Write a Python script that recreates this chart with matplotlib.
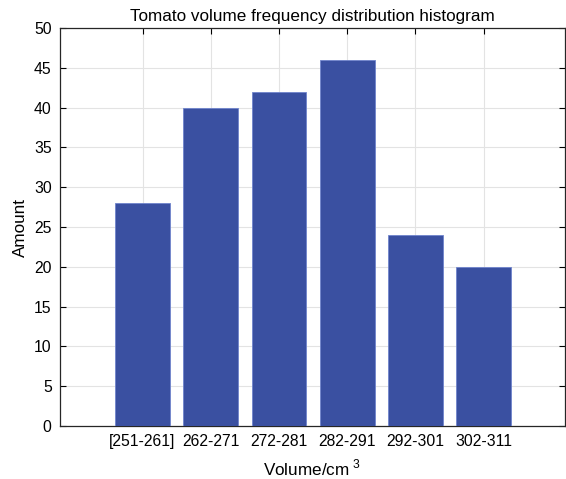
import matplotlib
matplotlib.use('Agg')
import matplotlib.pyplot as plt

categories = ['[251-261]', '262-271', '272-281', '282-291', '292-301', '302-311']
amounts = [28, 40, 42, 46, 24, 20]

plt.rcParams['font.family'] = ['Liberation Sans', 'DejaVu Sans']
plt.rcParams['mathtext.fontset'] = 'custom'
plt.rcParams['mathtext.rm'] = 'Liberation Sans'

fig = plt.figure(figsize=(5.66, 4.79), dpi=100)
ax = fig.add_axes([0.106, 0.1106, 0.892, 0.8309])

x = list(range(1, len(categories) + 1))
ax.bar(x, amounts, width=0.8, color='#3a50a1', edgecolor='#6f84cc', linewidth=0.6, zorder=3)

ax.set_xlim(-0.21, 7.19)
ax.set_ylim(0, 50)
ax.set_xticks(x)
ax.set_xticklabels(categories)
ax.set_yticks(range(0, 51, 5))
ax.tick_params(direction='in', top=True, right=True, labelsize=11.3, length=4, width=0.8, pad=6)
ax.grid(True, color='#e3e3e3', linewidth=0.8, zorder=0)
for s in ax.spines.values():
    s.set_linewidth(0.9)
    s.set_color('#262626')

ax.set_title('Tomato volume frequency distribution histogram', fontsize=12.3, pad=5)
ax.set_xlabel(r'Volume/cm$^{\rm\ 3}$', fontsize=12.3, labelpad=6)
ax.set_ylabel('Amount', fontsize=12.3, labelpad=4)

fig.savefig('out.png', dpi=100)
plt.close(fig)
